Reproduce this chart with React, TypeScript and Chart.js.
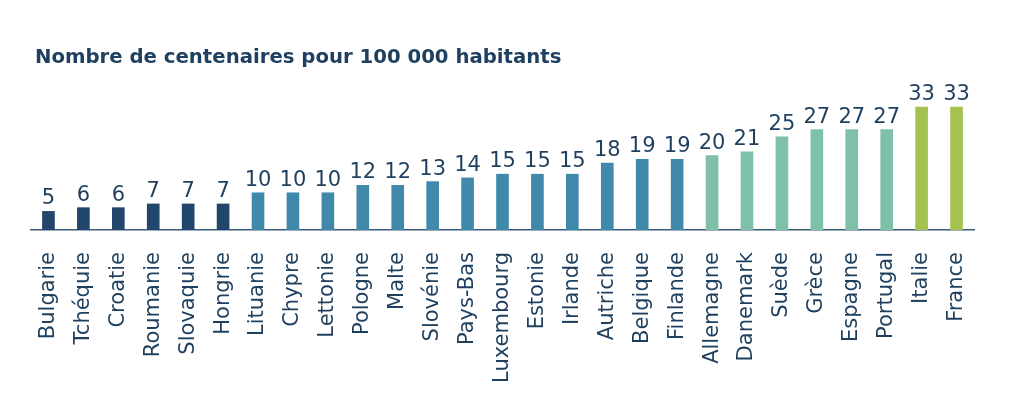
import React, { useEffect, useRef } from "react";
import { Chart, registerables } from "chart.js";

Chart.register(...registerables);

const titleText = "Nombre de centenaires pour 100 000 habitants";
const countries = [
  "Bulgarie", "Tchéquie", "Croatie", "Roumanie", "Slovaquie", "Hongrie",
  "Lituanie", "Chypre", "Lettonie", "Pologne", "Malte", "Slovénie",
  "Pays-Bas", "Luxembourg", "Estonie", "Irlande", "Autriche", "Belgique",
  "Finlande", "Allemagne", "Danemark", "Suède", "Grèce", "Espagne",
  "Portugal", "Italie", "France",
];
const centenarians = [
  5, 6, 6, 7, 7, 7,
  10, 10, 10, 12, 12, 13,
  14, 15, 15, 15, 18, 19,
  19, 20, 21, 25, 27, 27,
  27, 33, 33,
];
// color group per bar: 0 navy, 1 blue, 2 teal, 3 lime
const colorGroups = [
  0, 0, 0, 0, 0, 0,
  1, 1, 1, 1, 1, 1,
  1, 1, 1, 1, 1, 1,
  1, 2, 2, 2, 2, 2,
  2, 3, 3,
];
const palette = ["#22466b", "#4089ab", "#7fc1a8", "#a5c250"];
const textColor = "#1e3f5e";
const font = "'DejaVu Sans', sans-serif";

const valueLabels = {
  id: "valueLabels",
  afterDatasetsDraw(chart: any) {
    const ctx = chart.ctx;
    const meta = chart.getDatasetMeta(0);
    ctx.save();
    ctx.fillStyle = textColor;
    ctx.font = `21px ${font}`;
    ctx.textAlign = "center";
    ctx.textBaseline = "alphabetic";
    meta.data.forEach((bar: any, i: number) => {
      ctx.fillText(String(centenarians[i]), bar.x, bar.y - 7);
    });
    ctx.restore();
  },
};

const titleDrawer = {
  id: "titleDrawer",
  afterDraw(chart: any) {
    const ctx = chart.ctx;
    ctx.save();
    ctx.fillStyle = "#1f4060";
    ctx.font = `bold 19.7px ${font}`;
    ctx.textAlign = "left";
    ctx.textBaseline = "middle";
    ctx.fillText(titleText, 35, 58);
    ctx.restore();
  },
};

export default function App() {
  const ref = useRef<HTMLCanvasElement>(null);
  useEffect(() => {
    if (!ref.current) return;
    const chart = new Chart(ref.current, {
      type: "bar",
      data: {
        labels: countries,
        datasets: [
          {
            data: centenarians,
            backgroundColor: colorGroups.map((g) => palette[g]),
            barThickness: 12,
          },
        ],
      },
      options: {
        animation: false,
        responsive: true,
        maintainAspectRatio: false,
        layout: { padding: { top: 96, left: 31, right: 50, bottom: 20 } },
        plugins: {
          legend: { display: false },
          tooltip: { enabled: false },
          title: { display: false },
        },
        scales: {
          x: {
            grid: { display: false, drawTicks: false },
            border: { display: true, color: "#3a5a78", width: 1.5 },
            afterFit: (scale: any) => {
              scale.height = 168;
            },
            ticks: {
              color: textColor,
              font: { family: font, size: 21 },
              minRotation: 90,
              maxRotation: 90,
              padding: 22,
              autoSkip: false,
            },
          },
          y: {
            display: false,
            min: 0,
            max: 36,
          },
        },
      },
      plugins: [valueLabels, titleDrawer],
    });
    return () => chart.destroy();
  }, []);
  return (
    <div style={{ position: "absolute", left: 0, top: 0, width: 1024, height: 418, background: "#fff" }}>
      <canvas ref={ref} />
    </div>
  );
}
